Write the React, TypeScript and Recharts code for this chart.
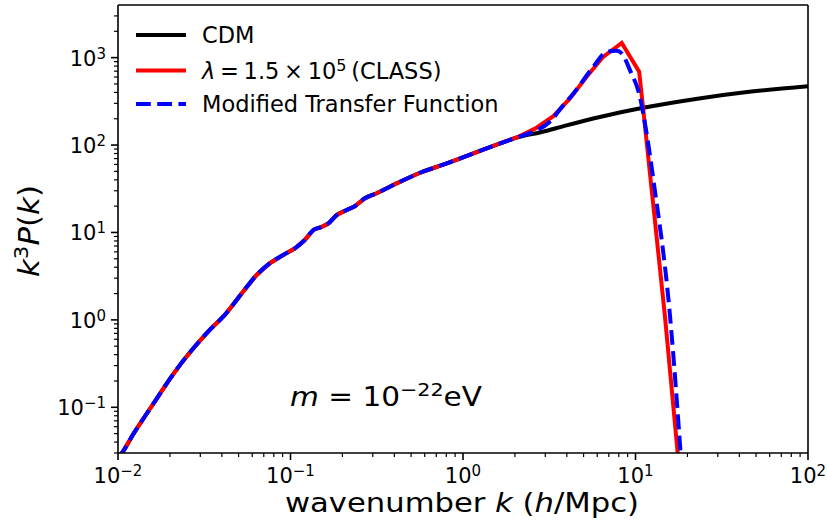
import React from 'react';
import { LineChart, Line, XAxis, YAxis, ReferenceLine } from 'recharts';

// wavenumber k (h/Mpc) and k^3 P(k)
// low-k part, identical for all three curves
const kShared = [0.01, 0.0107, 0.0122, 0.0143, 0.0167, 0.0195, 0.0233, 0.0279, 0.0333, 0.0416, 0.0532, 0.0637, 0.076, 0.0908, 0.106, 0.121, 0.136, 0.152, 0.166, 0.185, 0.212, 0.237, 0.27, 0.316, 0.413, 0.564, 0.805, 1.15, 1.57, 2.05];
const pShared = [0.0263, 0.0313, 0.0485, 0.0785, 0.124, 0.197, 0.32, 0.495, 0.736, 1.14, 2.11, 3.27, 4.45, 5.53, 6.59, 8.2, 10.7, 11.6, 12.7, 15.8, 18.1, 20.1, 24.6, 28.1, 36.5, 48.2, 61.7, 80.4, 101, 122];

// CDM
const kCdmTail = [2.82, 3.98, 6.31, 10.7, 23.4, 45.7, 100];
const pCdmTail = [140, 168, 211, 263, 341, 406, 472];

// lambda = 1.5e5 (CLASS)
const kClassTail = [2.63, 3.34, 4.17, 5.21, 6.5, 8.32, 10.5, 11.1, 14.8, 18.2];
const pClassTail = [155, 214, 341, 604, 1021, 1476, 689, 251, 1.12, 0.0141];

// modified transfer function
const kMtfTail = [2.56, 3.19, 3.82, 4.37, 5.69, 6.81, 7.78, 8.32, 9.29, 10.6, 11.6, 12.7, 15.8, 18.6];
const pMtfTail = [142, 185, 286, 389, 785, 1164, 1197, 1117, 719, 356, 136, 39.8, 1.19, 0.0178];

const xTicks = [0.01, 0.02, 0.03, 0.04, 0.05, 0.06, 0.07, 0.08, 0.09, 0.1, 0.2, 0.3, 0.4, 0.5, 0.6, 0.7, 0.8, 0.9, 1, 2, 3, 4, 5, 6, 7, 8, 9, 10, 20, 30, 40, 50, 60, 70, 80, 90, 100];
const yTicks = [0.03, 0.04, 0.05, 0.06, 0.07, 0.08, 0.09, 0.1, 0.2, 0.3, 0.4, 0.5, 0.6, 0.7, 0.8, 0.9, 1, 2, 3, 4, 5, 6, 7, 8, 9, 10, 20, 30, 40, 50, 60, 70, 80, 90, 100, 200, 300, 400, 500, 600, 700, 800, 900, 1000, 2000, 3000];

const toPoints = (ks: number[], ps: number[]) => ks.map((k, i) => ({ k, p: ps[i] }));

const cdm = toPoints([...kShared, ...kCdmTail], [...pShared, ...pCdmTail]);
const classCurve = toPoints([...kShared, ...kClassTail], [...pShared, ...pClassTail]);
const mtf = toPoints([...kShared, ...kMtfTail], [...pShared, ...pMtfTail]);

const FONT = '"DejaVu Sans", sans-serif';

const isMajor = (v: number) => Math.abs(Math.log10(v) - Math.round(Math.log10(v))) < 1e-6;

const expLabel = (v: number) => {
  const e = Math.round(Math.log10(v));
  return e < 0 ? `\u2212${-e}` : `${e}`;
};

const XTick = (props: any) => {
  const { x, y, payload } = props;
  const major = isMajor(payload.value);
  return (
    <g>
      <line x1={x} x2={x} y1={y} y2={y + (major ? 7 : 4)} stroke="#000" strokeWidth={major ? 1.6 : 1.2} />
      {major && (
        <text x={x} y={y + 30} textAnchor="middle" fontFamily={FONT} fontSize={21} fill="#000">
          10<tspan dy={-7} fontSize={15}>{expLabel(payload.value)}</tspan>
        </text>
      )}
    </g>
  );
};

const YTick = (props: any) => {
  const { x, y, payload } = props;
  const major = isMajor(payload.value);
  return (
    <g>
      <line x1={x - (major ? 7 : 4)} x2={x} y1={y} y2={y} stroke="#000" strokeWidth={major ? 1.6 : 1.2} />
      {major && (
        <text x={x - 12} y={y + 8} textAnchor="end" fontFamily={FONT} fontSize={21} fill="#000">
          10<tspan dy={-7} fontSize={15}>{expLabel(payload.value)}</tspan>
        </text>
      )}
    </g>
  );
};

const legendItems = [
  { label: 'cdm', color: '#000000', dash: undefined as string | undefined, y: 35 },
  { label: 'class', color: '#ff0000', dash: undefined, y: 70.5 },
  { label: 'mtf', color: '#0000ff', dash: '14.8 6.4', y: 104 },
];

export default function App() {
  return (
    <div style={{ position: 'absolute', left: 0, top: 0, width: 827, height: 531, background: '#fff' }}>
      <LineChart width={827} height={531} margin={{ top: 5, right: 19, bottom: 0, left: 0 }}>
        <XAxis
          type="number"
          dataKey="k"
          scale="log"
          domain={[0.01, 100]}
          allowDataOverflow
          ticks={xTicks}
          interval={0}
          height={78}
          tickSize={0}
          tickMargin={0}
          tickLine={false}
          axisLine={{ stroke: '#000', strokeWidth: 1.6 }}
          tick={<XTick />}
        />
        <YAxis
          type="number"
          dataKey="p"
          scale="log"
          domain={[0.03, 4000]}
          allowDataOverflow
          ticks={yTicks}
          interval={0}
          width={118}
          tickSize={0}
          tickMargin={0}
          tickLine={false}
          axisLine={{ stroke: '#000', strokeWidth: 1.6 }}
          tick={<YTick />}
        />
        <ReferenceLine y={4000} stroke="#000" strokeWidth={1.6} ifOverflow="visible" />
        <ReferenceLine x={100} stroke="#000" strokeWidth={1.6} ifOverflow="visible" />
        <Line data={cdm} dataKey="p" type="monotoneX" stroke="#000000" strokeWidth={4} dot={false} isAnimationActive={false} />
        <Line data={classCurve} dataKey="p" type="linear" stroke="#ff0000" strokeWidth={4} dot={false} isAnimationActive={false} />
        <Line data={mtf} dataKey="p" type="monotoneX" stroke="#0000ff" strokeWidth={4} strokeDasharray="14.8 6.4" dot={false} isAnimationActive={false} />
      </LineChart>
      <svg width={827} height={531} style={{ position: 'absolute', left: 0, top: 0, pointerEvents: 'none' }} fontFamily={FONT}>
        {legendItems.map((it) => (
          <line key={it.label} x1={136} x2={186} y1={it.y} y2={it.y} stroke={it.color} strokeWidth={4} strokeDasharray={it.dash} />
        ))}
        <text x={202} y={43.2} fontSize={22.5}>CDM</text>
        <text x={202} y={78.7} fontSize={22.5}>
          <tspan fontStyle="italic">λ</tspan>
          <tspan dx={4.7}>=</tspan>
          <tspan dx={4.7}>1.5</tspan>
          <tspan dx={4.7}>×</tspan>
          <tspan dx={4.7}>10</tspan>
          <tspan dy={-8} fontSize={16}>5</tspan>
          <tspan dy={8} dx={4.7}>(CLASS)</tspan>
        </text>
        <text x={202} y={112.2} fontSize={22.5}>Modified Transfer Function</text>
        <text x={290} y={406} fontSize={26.5} textLength={192} lengthAdjust="spacingAndGlyphs">
          <tspan fontStyle="italic">m</tspan> = 10<tspan dy={-10} fontSize={18.5}>−22</tspan><tspan dy={10}>eV</tspan>
        </text>
        <text x={462} y={512} textAnchor="middle" fontSize={26} textLength={354} lengthAdjust="spacingAndGlyphs">
          wavenumber <tspan fontStyle="italic">k</tspan> (<tspan fontStyle="italic">h</tspan>/Mpc)
        </text>
        <text x={39} y={231} textAnchor="middle" fontSize={29} textLength={92} lengthAdjust="spacingAndGlyphs" transform="rotate(-90 39 231)">
          <tspan fontStyle="italic">k</tspan><tspan dy={-11} fontSize={20}>3</tspan><tspan dy={11} fontStyle="italic">P</tspan>(<tspan fontStyle="italic">k</tspan>)
        </text>
      </svg>
    </div>
  );
}
